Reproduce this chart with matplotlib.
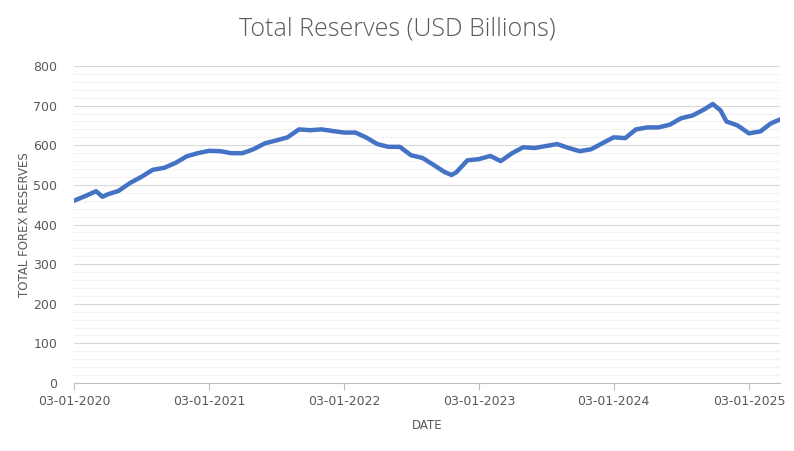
import matplotlib
matplotlib.use("Agg")
import matplotlib.pyplot as plt
import matplotlib.dates as mdates
import pandas as pd
from matplotlib.ticker import MultipleLocator

dates = ["2020-01-03","2020-02-03","2020-03-03","2020-03-20","2020-04-03","2020-05-03","2020-06-03","2020-07-03",
 "2020-08-03","2020-09-03","2020-10-03","2020-11-03","2020-12-03","2021-01-03","2021-02-03","2021-03-03",
 "2021-04-03","2021-05-03","2021-06-03","2021-07-03","2021-08-03","2021-09-03","2021-10-03","2021-11-03",
 "2021-12-03","2022-01-03","2022-02-03","2022-03-03","2022-04-03","2022-05-03","2022-06-03","2022-07-03",
 "2022-08-03","2022-09-03","2022-10-03","2022-10-21","2022-11-03","2022-12-03","2023-01-03","2023-02-03",
 "2023-03-03","2023-04-03","2023-05-03","2023-06-03","2023-07-03","2023-08-03","2023-09-03","2023-10-03",
 "2023-11-03","2023-12-03","2024-01-03","2024-02-03","2024-03-03","2024-04-03","2024-05-03","2024-06-03",
 "2024-07-03","2024-08-03","2024-09-03","2024-09-27","2024-10-18","2024-11-03","2024-12-03","2025-01-03",
 "2025-02-03","2025-03-03","2025-03-28"]
reserves = [460,472,484,470,476,485,505,520,538,543,555,572,580,586,585,580,
 580,590,605,612,620,640,638,640,636,632,632,620,603,596,596,575,
 568,550,532,525,532,562,565,573,560,580,595,593,598,603,593,585,
 590,605,620,618,640,645,645,652,668,675,690,704,688,660,650,630,
 635,655,665]
yticks = [0,100,200,300,400,500,600,700,800]
xtick_dates = ["2020-01-03","2021-01-03","2022-01-03","2023-01-03","2024-01-03","2025-01-03"]

x = pd.to_datetime(dates)
fig = plt.figure(figsize=(7.94,4.51), dpi=100)
ax = fig.add_axes([74/794, 1-383/451, (780-74)/794, (383-66)/451])
ax.plot(x, reserves, color="#4472C4", linewidth=3.2, solid_capstyle="round", solid_joinstyle="round", zorder=3)
ax.set_ylim(0,800)
ax.set_yticks(yticks)
ax.yaxis.set_minor_locator(MultipleLocator(20))
ax.set_xlim(pd.Timestamp("2020-01-03"), pd.Timestamp("2025-03-28"))
ax.set_xticks(pd.to_datetime(xtick_dates))
ax.xaxis.set_major_formatter(mdates.DateFormatter("%d-%m-%Y"))
ax.grid(which="major", axis="y", color="#D9D9D9", linewidth=0.8)
ax.grid(which="minor", axis="y", color="#F2F2F2", linewidth=0.8)
ax.set_axisbelow(True)
for s in ["top","right","left"]:
    ax.spines[s].set_visible(False)
ax.spines["bottom"].set_color("#BFBFBF")
ax.tick_params(axis="y", which="both", length=0, labelsize=9, labelcolor="#595959", pad=12)
ax.tick_params(axis="x", length=5, color="#BFBFBF", labelsize=9, labelcolor="#595959")
ax.set_xlabel("DATE", fontsize=8.5, color="#595959", labelpad=8)
ax.set_ylabel("TOTAL FOREX RESERVES", fontsize=8.5, color="#595959", labelpad=2)
fig.text(0.5, 0.935, "Total Reserves (USD Billions)", ha="center", va="center", fontsize=18, color="#595959", family="Open Sans", fontweight="light")
fig.savefig("out.png", dpi=100)
